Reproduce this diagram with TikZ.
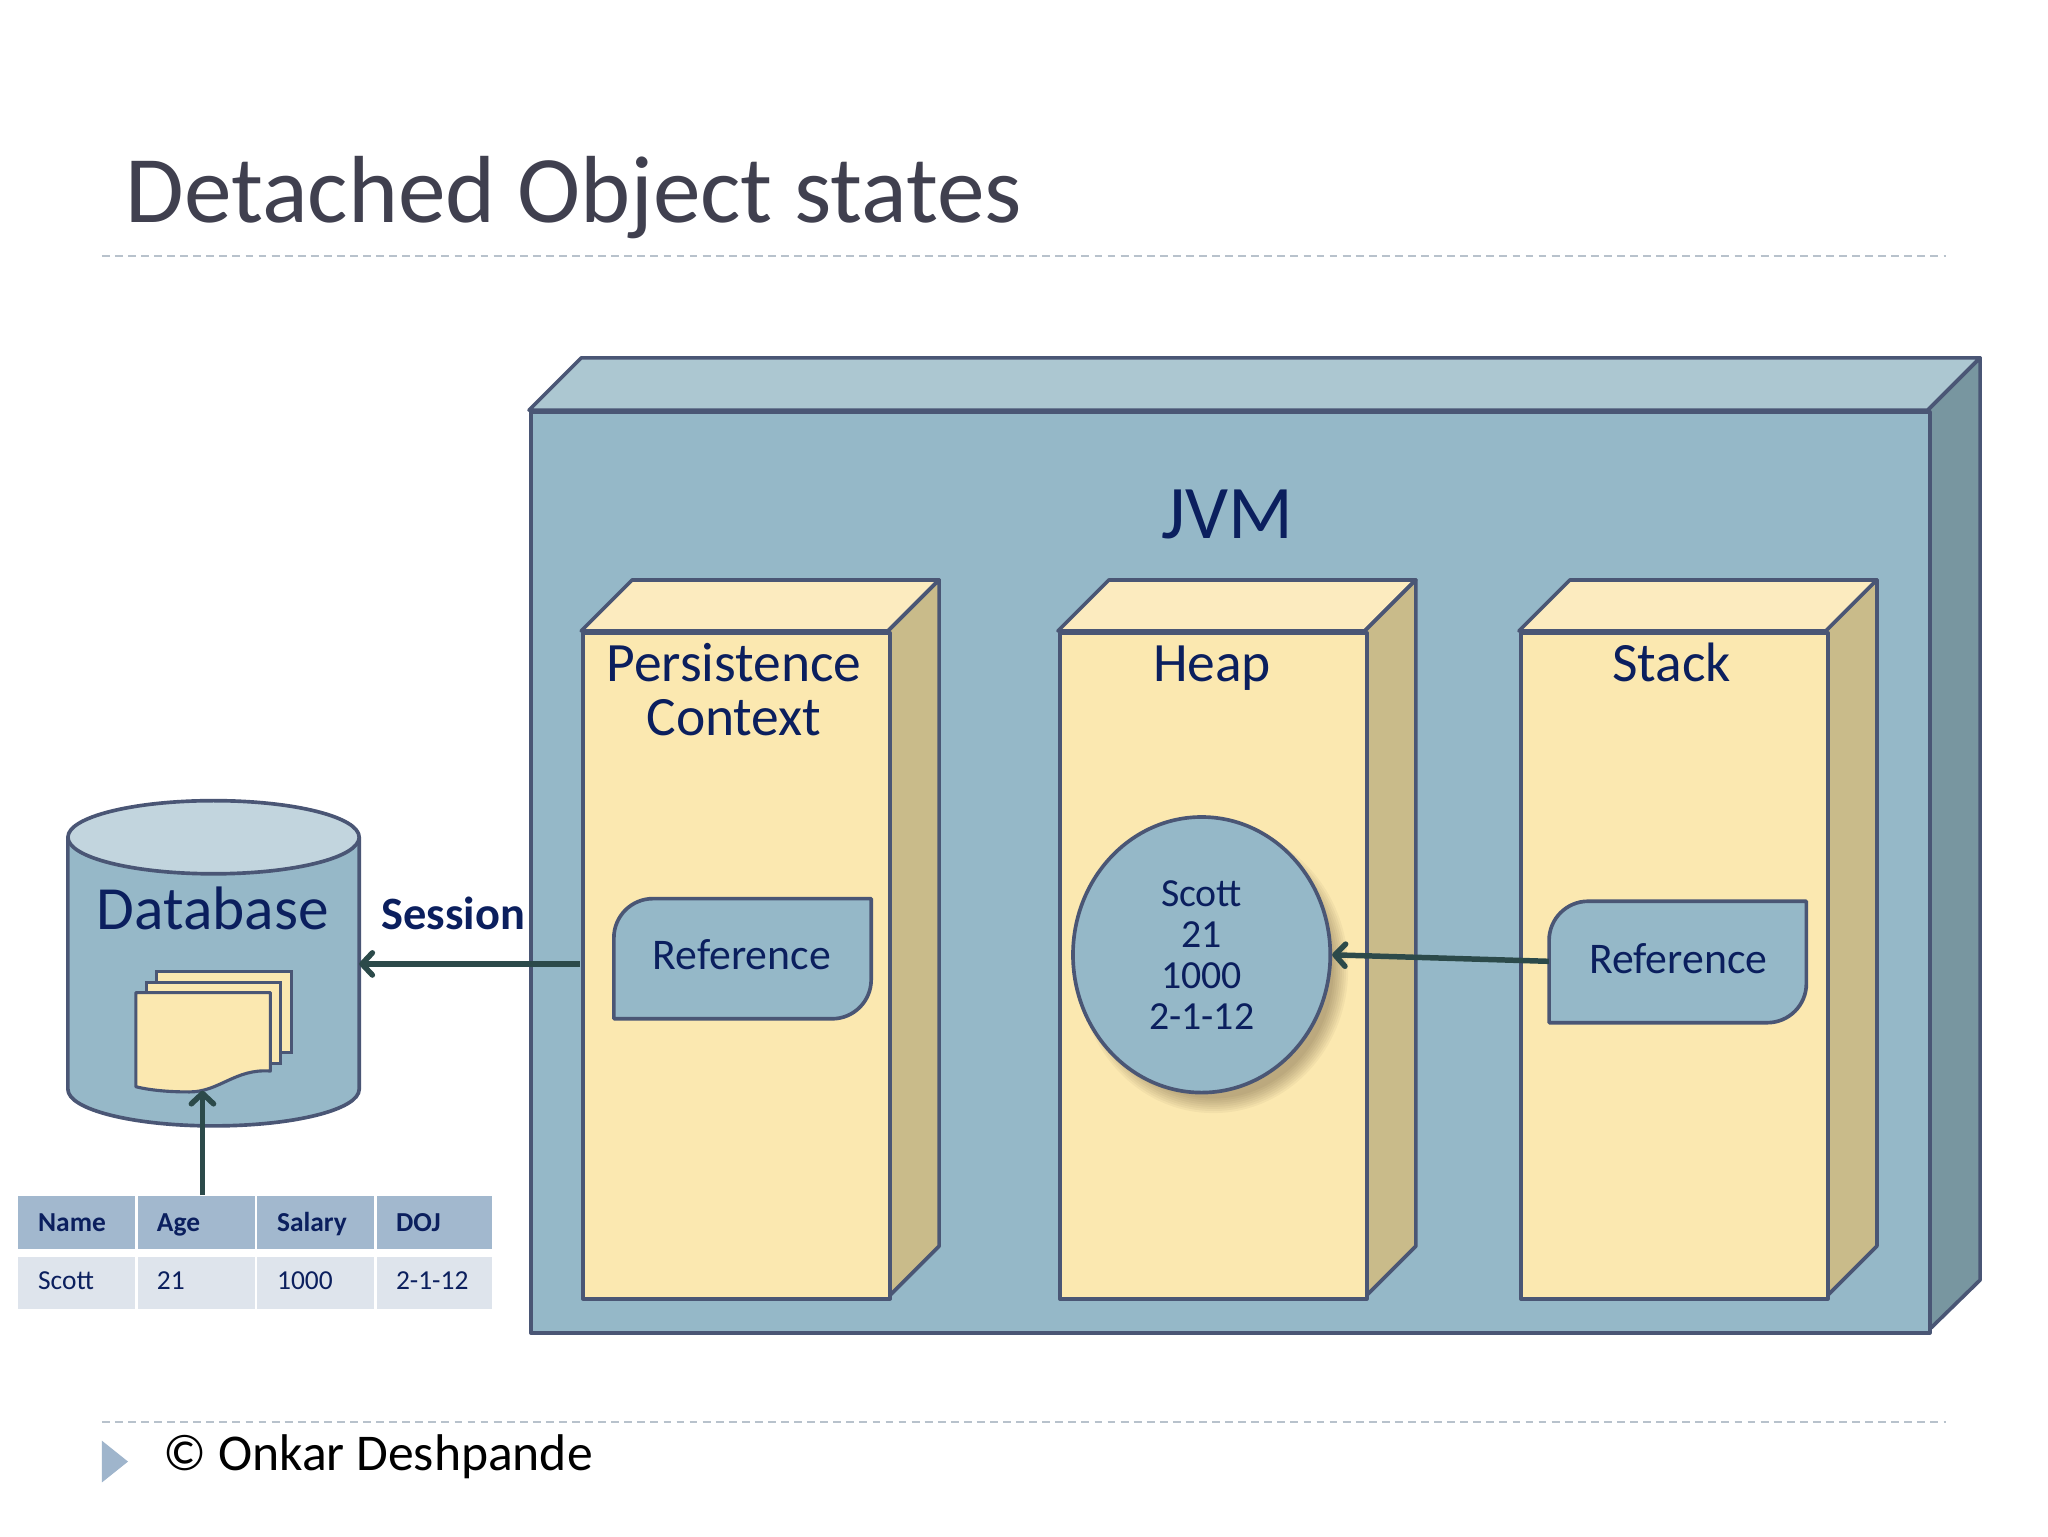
\documentclass[tikz,border=0pt]{standalone}
\usepackage{fontspec}
\setmainfont{Carlito}
\usetikzlibrary{arrows.meta,shapes.geometric}
\definecolor{edge}{HTML}{4A5675}
\definecolor{jvmfront}{HTML}{95B8C8}
\definecolor{jvmtop}{HTML}{ACC7D1}
\definecolor{jvmside}{HTML}{7896A0}
\definecolor{yfrontc}{HTML}{FBE8B0}
\definecolor{ytopc}{HTML}{FCEBBF}
\definecolor{ysidec}{HTML}{C9BB8A}
\definecolor{refblue}{HTML}{95B8C8}
\definecolor{dbbody}{HTML}{96B8C8}
\definecolor{dbtop}{HTML}{C2D5DE}
\definecolor{navy}{HTML}{0B1F5E}
\definecolor{titlegray}{HTML}{40404F}
\definecolor{dashgray}{HTML}{B8C2CC}
\definecolor{arrowc}{HTML}{2C4A4A}
\definecolor{thead}{HTML}{A2B8CE}
\definecolor{tdata}{HTML}{DEE4EC}
\definecolor{foottri}{HTML}{9FB5CC}
\begin{document}
\begin{tikzpicture}[x=1pt,y=-1pt,
  shapeedge/.style={draw=edge,line width=2.8pt,line join=round},
  conn/.style={draw=arrowc,line width=4.2pt,-{Straight Barb[length=8pt,width=17pt,round]}},
  dashline/.style={draw=dashgray,line width=1.6pt,dash pattern=on 6pt off 4pt},
  lbl/.style={text=navy,inner sep=0pt},
  cell/.style={inner sep=0pt,text=navy,font=\fontsize{21}{24}\selectfont}]
\useasboundingbox (0,0) rectangle (1568,1176);
\fill[white] (0,0) rectangle (1568,1176);

% title
\node[anchor=base west,inner sep=0pt,text=titlegray,font=\fontsize{73}{80}\selectfont] (title) at (96,170) {Detached Object states};
\draw[dashline] (78,196) -- (1490,196);
\draw[dashline] (78,1089) -- (1490,1089);

% footer
\fill[foottri] (78,1103) -- (98,1119) -- (78,1135) -- cycle;
\node[anchor=base west,inner sep=0pt,text=black,font=\fontsize{39.5}{44}\selectfont] (footer) at (125,1126) {© Onkar Deshpande};

% JVM box
\filldraw[shapeedge,fill=jvmtop] (405,314) -- (445,274) -- (1516,274) -- (1476,314) -- cycle;
\filldraw[shapeedge,fill=jvmside] (1476,314) -- (1516,274) -- (1516,980) -- (1476,1019) -- cycle;
\node[shapeedge,fill=jvmfront,anchor=north west,minimum width=1071pt,minimum height=705pt,inner sep=0pt] (jvm) at (405,314) {};
\node[lbl,anchor=base,font=\fontsize{58}{64}\selectfont] (jvmlabel) at (940,412) {JVM};

% yellow boxes
\filldraw[shapeedge,fill=ytopc] (445,483) -- (484,444) -- (719,444) -- (680,483) -- cycle;
\filldraw[shapeedge,fill=ysidec] (680,483) -- (719,444) -- (719,954) -- (680,993) -- cycle;
\node[shapeedge,fill=yfrontc,anchor=north west,minimum width=235pt,minimum height=510pt,inner sep=0pt] (pc) at (445,483) {};

\filldraw[shapeedge,fill=ytopc] (810,483) -- (849,444) -- (1084,444) -- (1045,483) -- cycle;
\filldraw[shapeedge,fill=ysidec] (1045,483) -- (1084,444) -- (1084,954) -- (1045,993) -- cycle;
\node[shapeedge,fill=yfrontc,anchor=north west,minimum width=235pt,minimum height=510pt,inner sep=0pt] (heap) at (810,483) {};

\filldraw[shapeedge,fill=ytopc] (1163,483) -- (1202,444) -- (1437,444) -- (1398,483) -- cycle;
\filldraw[shapeedge,fill=ysidec] (1398,483) -- (1437,444) -- (1437,954) -- (1398,993) -- cycle;
\node[shapeedge,fill=yfrontc,anchor=north west,minimum width=235pt,minimum height=510pt,inner sep=0pt] (stack) at (1163,483) {};

\node[lbl,anchor=base,font=\fontsize{42.5}{46}\selectfont] (pclab1) at (562,522) {Persistence};
\node[lbl,anchor=base,font=\fontsize{42.5}{46}\selectfont] (pclab2) at (562,563) {Context};
\node[lbl,anchor=base,font=\fontsize{42.5}{46}\selectfont] (heaplab) at (928,522) {Heap};
\node[lbl,anchor=base,font=\fontsize{42.5}{46}\selectfont] (stacklab) at (1280,522) {Stack};

% reference shapes
\filldraw[shapeedge,fill=refblue] (470,780) -- (470,718) .. controls (470,701.4) and (483.4,688) .. (500,688) -- (667,688) -- (667,750) .. controls (667,766.6) and (653.6,780) .. (637,780) -- cycle;
\node[inner sep=0pt,minimum width=197pt,minimum height=92pt] (pcref) at (568.5,734) {};
\node[lbl,anchor=base,font=\fontsize{33.5}{38}\selectfont] (pcreftext) at (568,742) {Reference};

\filldraw[shapeedge,fill=refblue] (1186,783) -- (1186,720) .. controls (1186,703.4) and (1199.4,690) .. (1216,690) -- (1383,690) -- (1383,753) .. controls (1383,769.6) and (1369.6,783) .. (1353,783) -- cycle;
\node[inner sep=0pt,minimum width=197pt,minimum height=93pt] (stackref) at (1284.5,736) {};
\node[lbl,anchor=base,font=\fontsize{33.5}{38}\selectfont] (stackreftext) at (1285,745) {Reference};

% heap object with blurred shadow
\foreach \i in {0,...,7} {
  \fill[black!75!brown,opacity=0.045] (929,742) ellipse [x radius={92+1.6*\i}, y radius={99+1.6*\i}];
}
\node[ellipse,shapeedge,fill=refblue,minimum width=197pt,minimum height=211pt,inner sep=0pt,align=center,text=navy,font=\fontsize{30.5}{31.4}\selectfont] (heapobj) at (920,731) {Scott\\21\\1000\\2-1-12};

\draw[conn] (stackref.west) -- (heapobj.east);

% database
\filldraw[shapeedge,fill=dbbody] (52,641) -- (52,834) arc[start angle=180,end angle=0,x radius=111.5,y radius=28] -- (275,641) -- cycle;
\filldraw[shapeedge,fill=dbtop] (163.5,641) ellipse [x radius=111.5, y radius=28];
\coordinate (dbeast) at (275,738);
\node[lbl,anchor=base,font=\fontsize{47}{52}\selectfont] (dblab) at (163,712) {Database};
% documents
\filldraw[draw=edge,line width=2.4pt,fill=yfrontc] (120,744) rectangle (223,806);
\filldraw[draw=edge,line width=2.4pt,fill=yfrontc] (112,752) rectangle (215,814);
\filldraw[draw=edge,line width=2.4pt,fill=yfrontc,line join=round] (104,760) -- (207,760) -- (207,820) .. controls (180,818) and (168,836) .. (145,836) .. controls (125,836) and (112,834) .. (104,832) -- cycle;
\coordinate (docb) at (155,835);

% session connector
\coordinate (sessfrom) at (444,738);
\draw[conn] (sessfrom) -- (dbeast);
\node[lbl,anchor=base west,font=\bfseries\fontsize{35.5}{40}\selectfont] (session) at (292,712) {Session};

% table
\fill[thead] (14,915.5) rectangle (103,956);
\fill[thead] (106,915.5) rectangle (195,956);
\fill[thead] (197,915.5) rectangle (286,956);
\fill[thead] (289,915.5) rectangle (377,956);
\fill[tdata] (14,962.5) rectangle (103,1002.5);
\fill[tdata] (106,962.5) rectangle (195,1002.5);
\fill[tdata] (197,962.5) rectangle (286,1002.5);
\fill[tdata] (289,962.5) rectangle (377,1002.5);
\node[cell,anchor=base west,font=\bfseries\fontsize{21}{24}\selectfont] (hname) at (29,943) {Name};
\node[cell,anchor=base west,font=\bfseries\fontsize{21}{24}\selectfont] (hage) at (120,943) {Age};
\node[cell,anchor=base west,font=\bfseries\fontsize{21}{24}\selectfont] (hsal) at (212,943) {Salary};
\node[cell,anchor=base west,font=\bfseries\fontsize{21}{24}\selectfont] (hdoj) at (303,943) {DOJ};
\node[cell,anchor=base west] (dname) at (29,987) {Scott};
\node[cell,anchor=base west] (dage) at (120,987) {21};
\node[cell,anchor=base west] (dsal) at (212,987) {1000};
\node[cell,anchor=base west] (ddoj) at (303,987) {2-1-12};
\coordinate (tabtop) at (155,915);
\draw[conn] (tabtop) -- (docb);
\end{tikzpicture}
\end{document}
